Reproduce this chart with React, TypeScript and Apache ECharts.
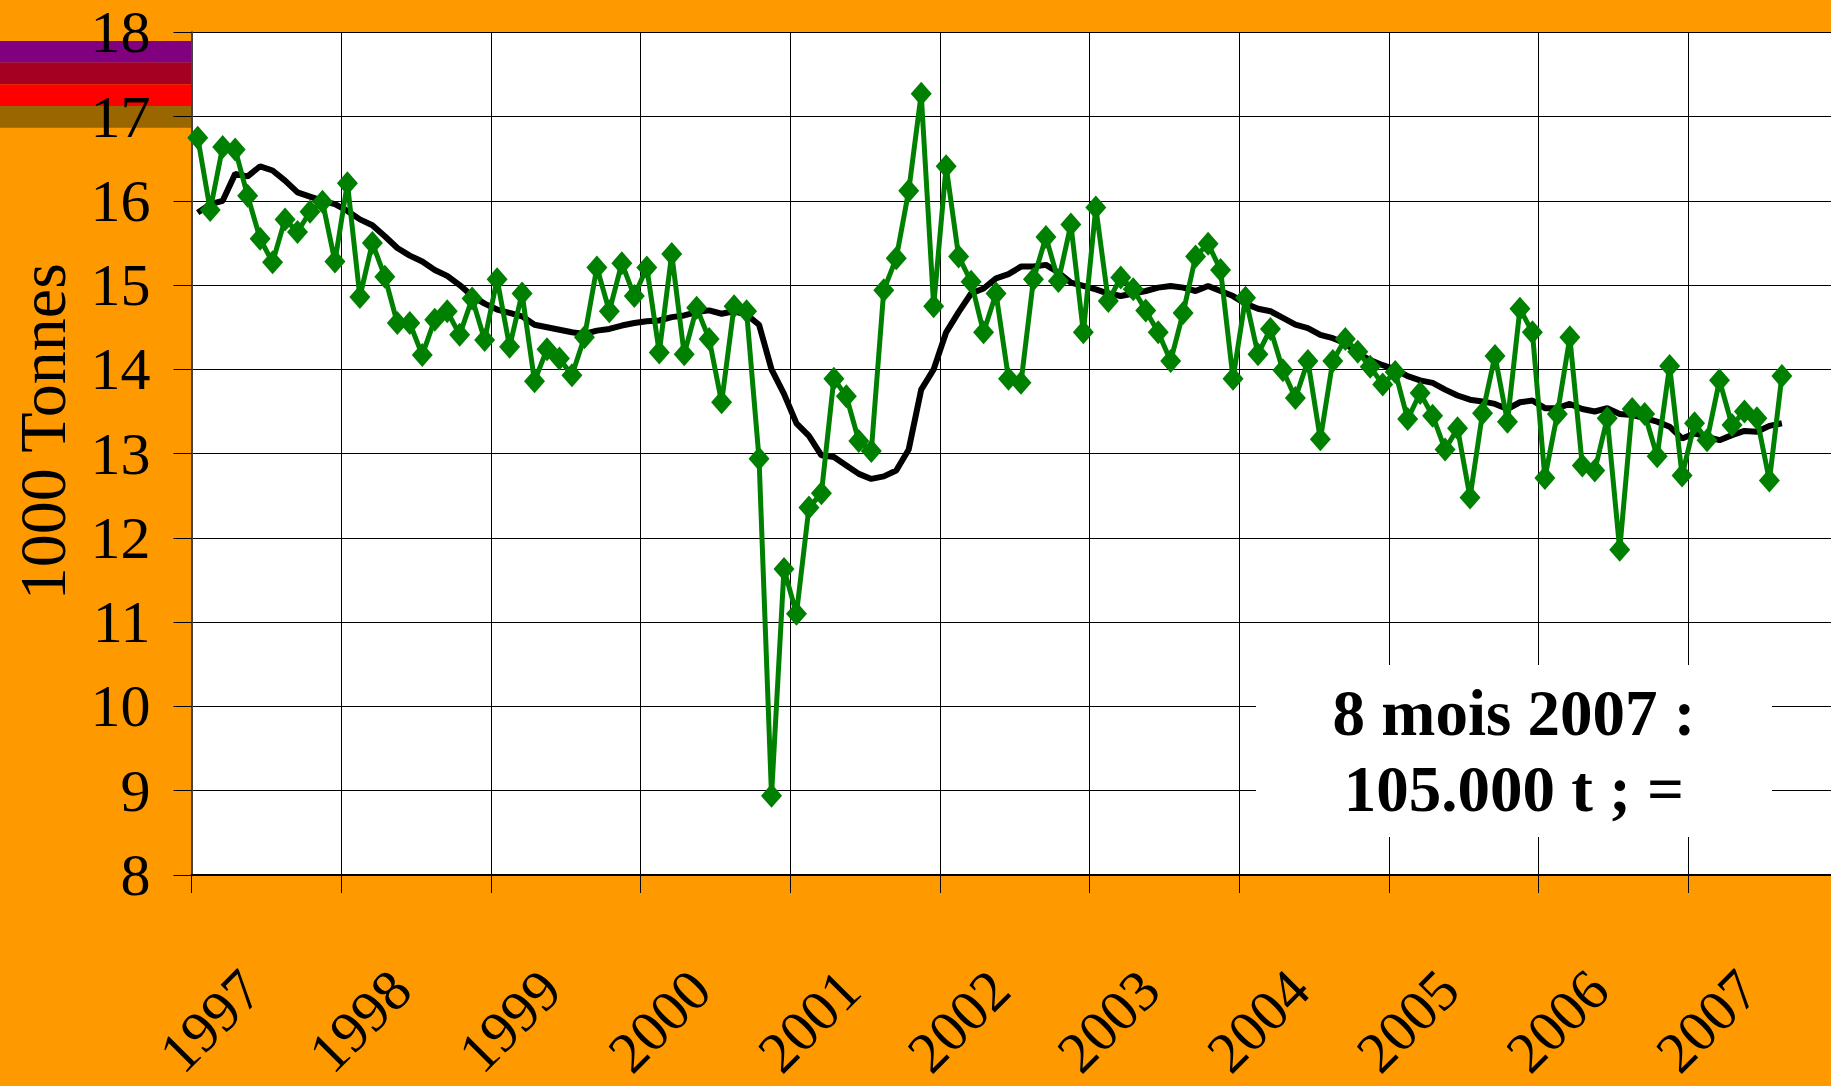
import React, { useEffect, useRef } from "react";
import * as echarts from "echarts";

const years = ["1997", "1998", "1999", "2000", "2001", "2002", "2003", "2004", "2005", "2006", "2007"];
const monthCodes = ["01", "02", "03", "04", "05", "06", "07", "08", "09", "10", "11", "12"];

// Monthly values (1000 tonnes), Jan 1997 .. Aug 2007
const monthlyTonnes = [
  16.75, 15.89, 16.64, 16.61, 16.06, 15.55, 15.27, 15.78, 15.63, 15.87, 15.99, 15.28,
  16.21, 14.86, 15.5, 15.1, 14.55, 14.55, 14.17, 14.59, 14.69, 14.41, 14.84, 14.35,
  15.07, 14.27, 14.9, 13.86, 14.24, 14.13, 13.93, 14.38, 15.21, 14.69, 15.26, 14.87,
  15.21, 14.2, 15.37, 14.18, 14.73, 14.36, 13.61, 14.75, 14.69, 12.94, 8.94, 11.63,
  11.1, 12.36, 12.53, 13.89, 13.68, 13.15, 13.03, 14.94, 15.32, 16.12, 17.27, 14.75,
  16.41, 15.34, 15.04, 14.44, 14.9, 13.89, 13.84, 15.07, 15.57, 15.05, 15.72, 14.44,
  15.92, 14.81, 15.09, 14.95, 14.7, 14.44, 14.1, 14.67, 15.34, 15.49, 15.18, 13.89,
  14.85, 14.18, 14.48, 13.99, 13.66, 14.1, 13.17, 14.1, 14.36, 14.21, 14.03, 13.82,
  13.97, 13.41, 13.72, 13.45, 13.05, 13.3, 12.48, 13.48, 14.16, 13.38, 14.72, 14.44,
  12.71, 13.47, 14.38, 12.86, 12.8, 13.42, 11.86, 13.53, 13.47, 12.97, 14.04, 12.74,
  13.36, 13.16, 13.87, 13.34, 13.5, 13.42, 12.68, 13.92,
];

// 12-month moving average
const movingAverage = [
  15.86, 15.96, 16.0, 16.32, 16.29, 16.41, 16.36, 16.24, 16.1, 16.05, 16.0, 15.96,
  15.88, 15.78, 15.71, 15.58, 15.44, 15.35, 15.28, 15.18, 15.11, 15.0, 14.87, 14.78,
  14.71, 14.67, 14.63, 14.53, 14.5, 14.47, 14.44, 14.42, 14.46, 14.48, 14.52, 14.55,
  14.57, 14.58, 14.62, 14.64, 14.68, 14.7, 14.66, 14.69, 14.65, 14.53, 14.0, 13.71,
  13.36, 13.21, 12.98, 12.96, 12.86, 12.76, 12.7, 12.73, 12.8, 13.05, 13.76, 14.0,
  14.44, 14.68, 14.9, 14.96, 15.08, 15.13, 15.22, 15.22, 15.24, 15.15, 15.03, 14.99,
  14.95, 14.9, 14.87, 14.9, 14.93, 14.97, 14.99, 14.97, 14.93, 14.99, 14.93, 14.87,
  14.78, 14.72, 14.69, 14.61, 14.53, 14.49, 14.41, 14.37, 14.31, 14.19, 14.11, 14.05,
  14.0, 13.92, 13.87, 13.84, 13.76, 13.69, 13.64, 13.62, 13.59, 13.53, 13.61, 13.63,
  13.54, 13.54, 13.59, 13.53, 13.5, 13.54, 13.47, 13.46, 13.42, 13.38, 13.32, 13.18,
  13.24, 13.2, 13.16, 13.22, 13.27, 13.26, 13.33, 13.36,
];

const legendBandColors = ["#800080", "#A50021", "#FF0000", "#996600"];
const annotationLines = ["8 mois 2007 :", "105.000 t ; ="];
const yAxisTitle = "1000 Tonnes";

const FONT = '"Liberation Serif", "DejaVu Serif", serif';

export default function App() {
  const ref = useRef<HTMLDivElement>(null);

  useEffect(() => {
    document.body.style.margin = "0";
    document.body.style.overflow = "hidden";
    if (!ref.current) return;
    const chart = echarts.init(ref.current, undefined, { renderer: "svg" });

    const categories: string[] = [];
    years.forEach((y) => monthCodes.forEach((m) => categories.push(y + "-" + m)));
    const isYearStart = (i: number) => i % 12 === 0;
    const yearNumbers = years.map((y) => Number(y));
    // label axis: year scale shifted so that rotated labels hang right of the year ticks
    const labelShift = 0.4;
    const labelMin = yearNumbers[0] - labelShift;
    const labelMax = labelMin + years.length;

    const bandEls = legendBandColors.map((c, i) => ({
      type: "rect",
      shape: { x: 0, y: 41 + i * 21.7, width: 191, height: 21.7 },
      style: { fill: c },
      z: -1,
      silent: true,
    }));

    chart.setOption({
      animation: false,
      backgroundColor: "#FF9900",
      grid: {
        left: 191.5,
        top: 32.3,
        right: -7,
        bottom: 211,
        show: true,
        backgroundColor: "#FFFFFF",
        borderWidth: 0,
        containLabel: false,
        outerBoundsMode: "none",
      },
      xAxis: [
        {
          type: "category",
          data: categories,
          boundaryGap: true,
          axisLine: { show: true, lineStyle: { color: "#000", width: 2 } },
          axisTick: {
            show: true,
            interval: (i: number) => isYearStart(i),
            length: 18,
            lineStyle: { color: "#000", width: 1 },
          },
          axisLabel: { show: false },
          splitLine: {
            show: true,
            interval: (i: number) => isYearStart(i),
            lineStyle: { color: "#000", width: 1 },
          },
        },
        {
          type: "value",
          position: "bottom",
          min: labelMin,
          max: labelMax,
          offset: 97,
          axisLine: { show: false },
          axisTick: { show: false },
          splitLine: { show: false },
          axisLabel: {
            customValues: yearNumbers,
            rotate: 45,
            margin: 8,
            fontSize: 58,
            fontFamily: FONT,
            color: "#000",
            showMinLabel: true,
            showMaxLabel: true,
            formatter: (v: number) => String(v),
          },
        },
      ],
      yAxis: {
        type: "value",
        min: 8,
        max: 18,
        interval: 1,
        name: yAxisTitle,
        nameLocation: "middle",
        nameRotate: 90,
        nameGap: 116,
        nameTextStyle: {
          fontSize: 66,
          fontFamily: FONT,
          color: "#000",
          padding: [0, 0, 0, 44],
        },
        axisLine: { show: true, lineStyle: { color: "#444", width: 2 } },
        axisTick: { show: true, length: 18, lineStyle: { color: "#000", width: 1 } },
        axisLabel: { fontSize: 60, margin: 41, fontFamily: FONT, color: "#000" },
        splitLine: { show: true, lineStyle: { color: "#000", width: 1 } },
      },
      graphic: [
        ...bandEls,
        {
          type: "rect",
          shape: { x: 1256, y: 665, width: 516, height: 172 },
          style: { fill: "#FFFFFF" },
          z: 1,
          silent: true,
        },
        {
          type: "text",
          x: 1514,
          y: 751,
          z: 3,
          silent: true,
          style: {
            text: annotationLines.join("\n"),
            fontSize: 65,
            fontWeight: "bold",
            fontFamily: FONT,
            fill: "#000",
            align: "center",
            verticalAlign: "middle",
            lineHeight: 76,
          },
        },
      ],
      series: [
        {
          name: "Moyenne mobile",
          type: "line",
          xAxisIndex: 0,
          data: movingAverage,
          symbol: "none",
          lineStyle: { color: "#000", width: 6 },
          z: 2,
        },
        {
          name: "Mensuel",
          type: "line",
          xAxisIndex: 0,
          data: monthlyTonnes,
          symbol: "diamond",
          symbolSize: [21, 24],
          showAllSymbol: true,
          itemStyle: { color: "#008000" },
          lineStyle: { color: "#008000", width: 5 },
          z: 3,
        },
      ],
    });

    return () => chart.dispose();
  }, []);

  return <div ref={ref} style={{ width: 1831, height: 1086 }} />;
}
